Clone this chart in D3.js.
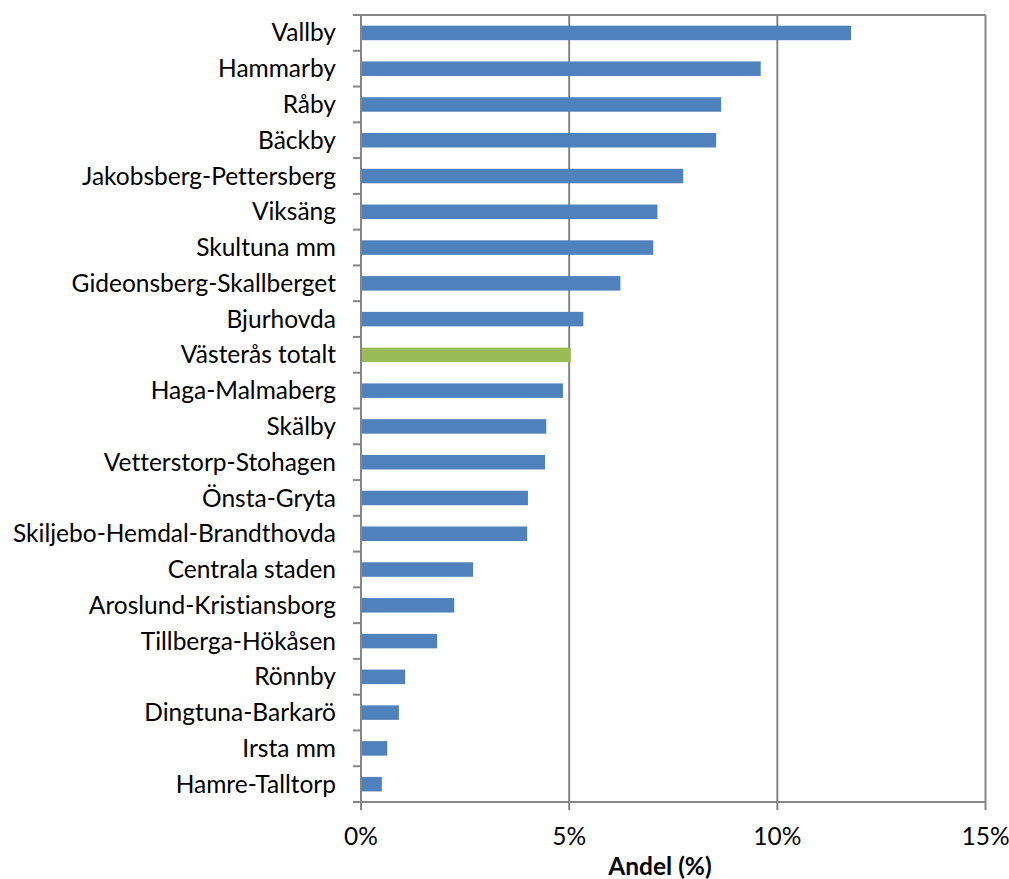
<!DOCTYPE html>
<html><head><meta charset="utf-8">
<script src="https://cdn.jsdelivr.net/npm/d3@7"></script>
<style>body{margin:0;background:#fff}svg{display:block}text{font-variant-ligatures:none;font-feature-settings:"liga" 0}</style>
</head><body>
<script>
const categories = ["Vallby","Hammarby","Råby","Bäckby","Jakobsberg-Pettersberg","Viksäng","Skultuna mm","Gideonsberg-Skallberget","Bjurhovda","Västerås totalt","Haga-Malmaberg","Skälby","Vetterstorp-Stohagen","Önsta-Gryta","Skiljebo-Hemdal-Brandthovda","Centrala staden","Aroslund-Kristiansborg","Tillberga-Hökåsen","Rönnby","Dingtuna-Barkarö","Irsta mm","Hamre-Talltorp"];
const values = [11.77,9.6,8.65,8.53,7.74,7.12,7.02,6.23,5.34,5.04,4.85,4.45,4.42,4.01,3.99,2.69,2.24,1.83,1.06,0.91,0.63,0.50];
const highlight = ["Västerås totalt"];
const xTicks = [0,5,10,15];
const xTitle = "Andel (%)";

const W=1009,H=879;
const m={left:361,top:15,right:1009-985.5,bottom:879-802};
const svg=d3.select("body").append("svg").attr("width",W).attr("height",H);
const x=d3.scaleLinear().domain([0,15]).range([m.left,W-m.right]);
const band=d3.scaleBand().domain(categories).range([m.top,H-m.bottom]);
const gray="#868686";
const font="Lato, sans-serif";
const fs=24.5;

// gridlines
svg.append("g").selectAll("line").data(xTicks.slice(1)).join("line")
  .attr("x1",d=>x(d)).attr("x2",d=>x(d)).attr("y1",m.top).attr("y2",H-m.bottom)
  .attr("stroke",gray).attr("stroke-width",2);
// top border
svg.append("line").attr("x1",m.left).attr("x2",W-m.right).attr("y1",m.top).attr("y2",m.top).attr("stroke",gray).attr("stroke-width",2);

// bars
svg.append("g").selectAll("rect").data(categories).join("rect")
  .attr("x",x(0)).attr("y",(d)=>band(d)+band.bandwidth()/2-7.2)
  .attr("width",(d,i)=>x(values[i])-x(0)).attr("height",14.5)
  .attr("fill",d=>highlight.includes(d)?"#9BBB59":"#4F81BD");

// y axis
const ya=svg.append("g").attr("transform",`translate(${m.left},0)`);
ya.append("line").attr("x1",0).attr("x2",0).attr("y1",m.top).attr("y2",H-m.bottom).attr("stroke",gray).attr("stroke-width",2);
const yTickPos=categories.map(c=>band(c)).concat([H-m.bottom]);
ya.selectAll(".tk").data(yTickPos).join("line").attr("class","tk")
  .attr("x1",-8).attr("x2",0).attr("y1",d=>d).attr("y2",d=>d).attr("stroke",gray).attr("stroke-width",2);
ya.selectAll("text").data(categories).join("text")
  .attr("x",-25).attr("y",d=>band(d)+band.bandwidth()/2).attr("dy","0.35em")
  .attr("text-anchor","end").attr("font-family",font).attr("font-size",fs).attr("fill","#000")
  .text(d=>d);

// x axis
const xa=svg.append("g").attr("transform",`translate(0,${H-m.bottom})`);
xa.append("line").attr("x1",m.left).attr("x2",W-m.right).attr("stroke",gray).attr("stroke-width",2);
xa.selectAll(".tk").data(xTicks).join("line").attr("class","tk")
  .attr("x1",d=>x(d)).attr("x2",d=>x(d)).attr("y1",0).attr("y2",8).attr("stroke",gray).attr("stroke-width",2);
xa.selectAll("text").data(xTicks).join("text")
  .attr("x",d=>x(d)).attr("y",43).attr("text-anchor","middle")
  .attr("font-family",font).attr("font-size",fs).attr("fill","#000").text(d=>d+"%");
svg.append("text").attr("x",660).attr("y",875).attr("text-anchor","middle")
  .attr("font-family",font).attr("font-size",24.5).attr("font-weight","bold").text(xTitle);
</script>
</body></html>
